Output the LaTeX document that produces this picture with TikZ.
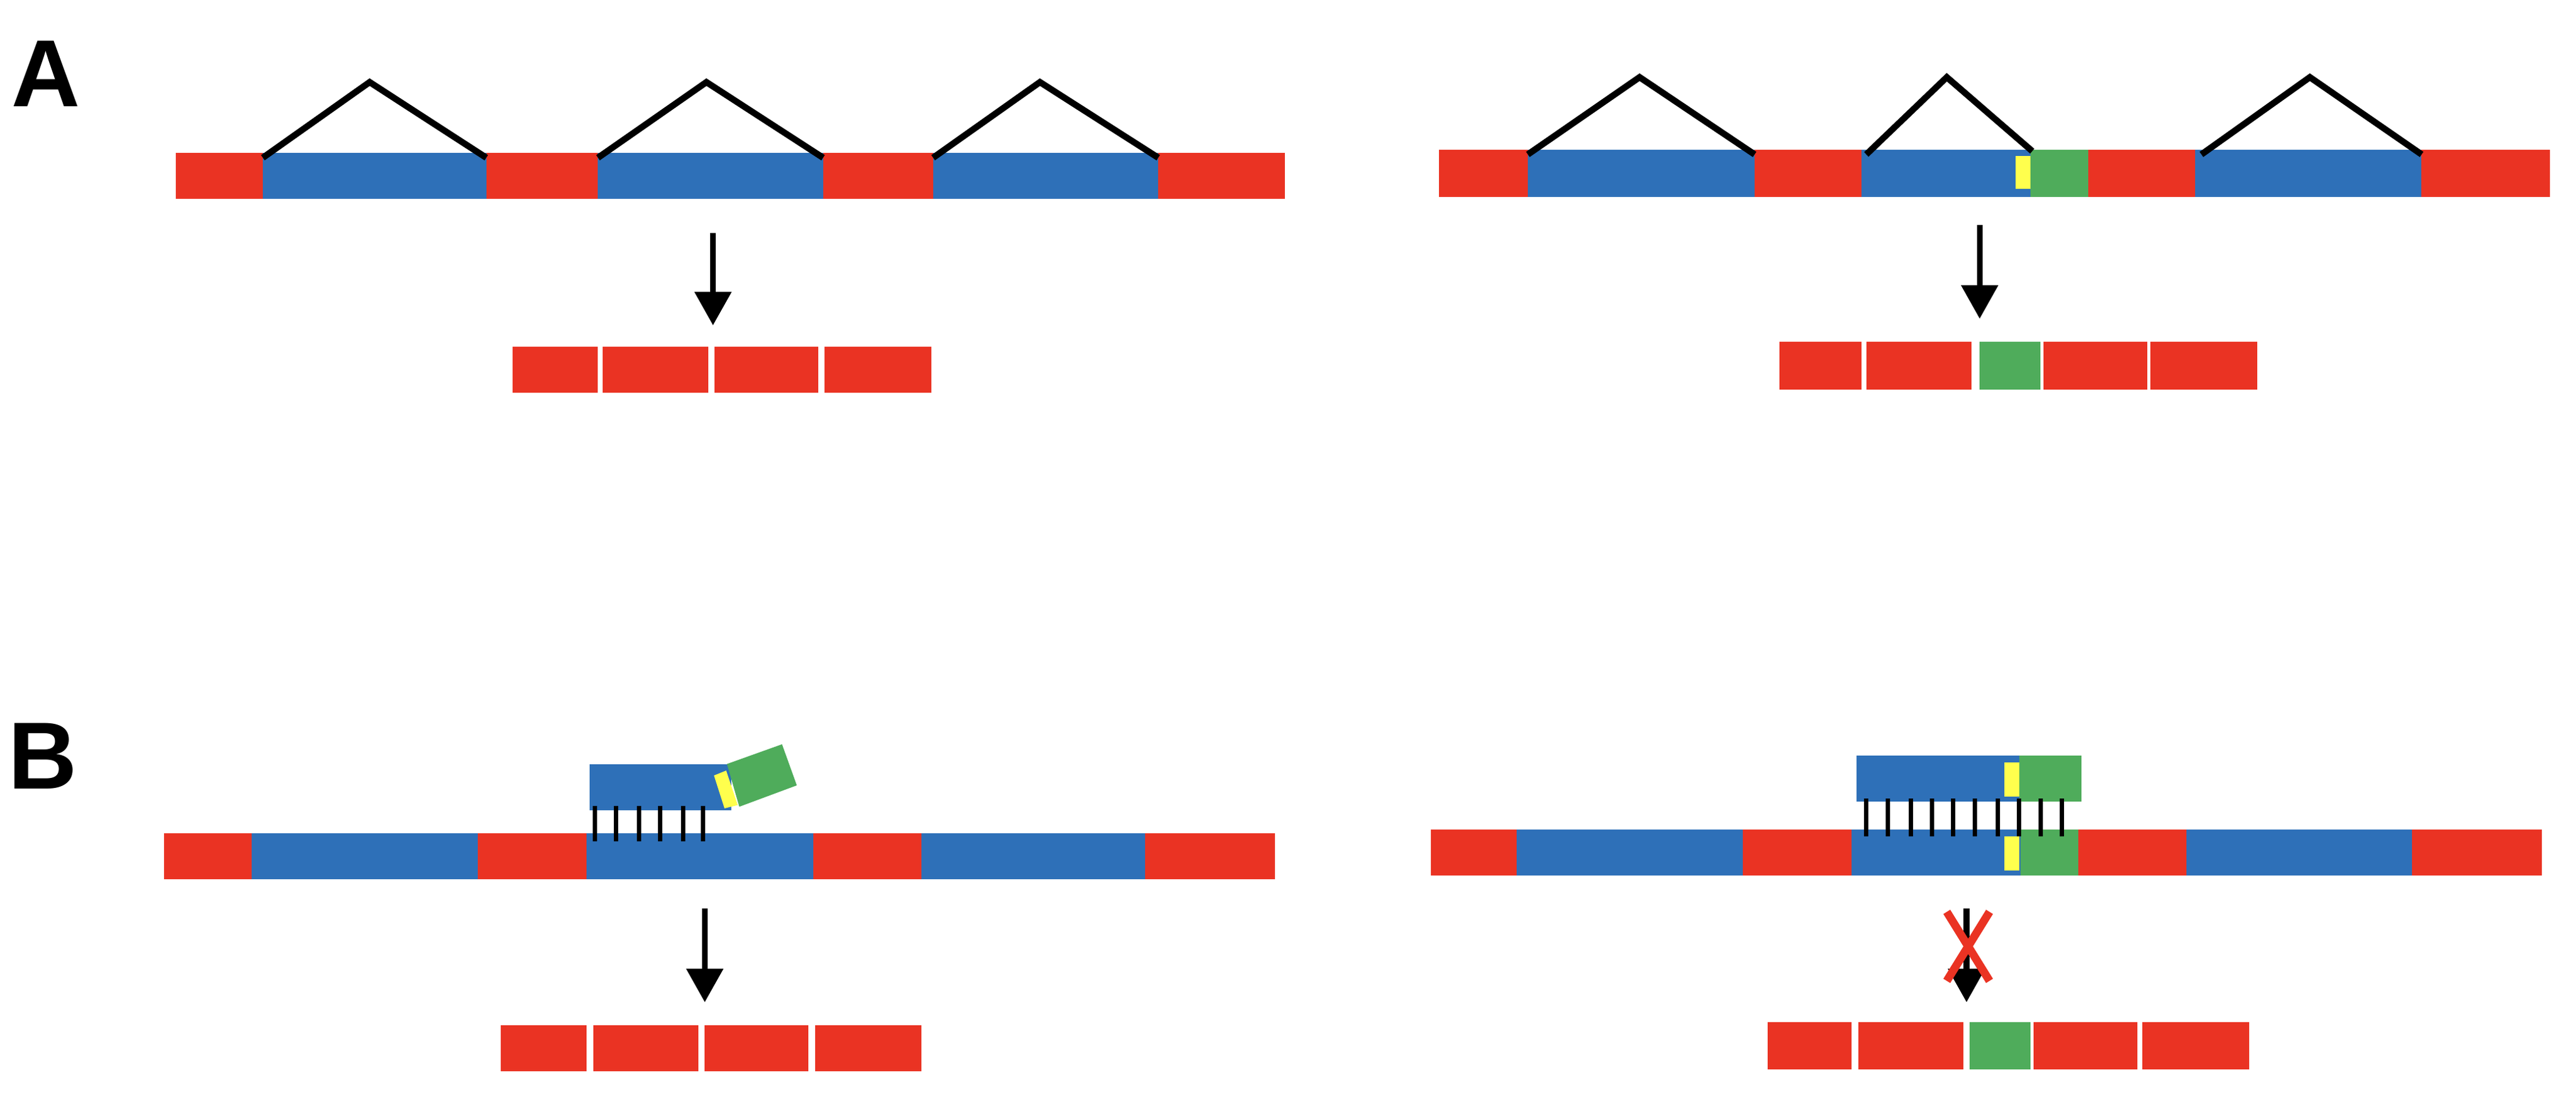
\documentclass[tikz,border=0pt]{standalone}
\usetikzlibrary{arrows.meta}
\usepackage{fontspec}
\setsansfont{Liberation Sans}
\definecolor{cred}{HTML}{EA3323}
\definecolor{cblue}{HTML}{2E70B8}
\definecolor{cgreen}{HTML}{4FAC5B}
\definecolor{cyel}{HTML}{FFFF4D}
\tikzset{
  intron/.style={line width=11pt,line join=miter},
  flow/.style={line width=10pt,-{Triangle[width=62pt,length=58pt]}},
  bp/.style={line width=7.5pt},
  lbl/.style={font=\sffamily\bfseries\fontsize{165}{165}\selectfont,anchor=center},
}
\newcommand{\sg}[5]{\fill[#5] (#1,#3) rectangle (#2,#4);}
\begin{document}
\begin{tikzpicture}[x=0.1cm,y=-0.1cm]
\useasboundingbox (0,0) rectangle (1568,665);
\node[lbl] (labA) at (28,45) {A};
\node[lbl] (labB) at (26,460) {B};
% ---- A left
\sg{107}{160}{93}{121}{cred}\sg{160}{296}{93}{121}{cblue}\sg{296}{364}{93}{121}{cred}
\sg{364}{501}{93}{121}{cblue}\sg{501}{568}{93}{121}{cred}\sg{568}{705}{93}{121}{cblue}
\sg{705}{782}{93}{121}{cred}
\draw[intron] (160,96)--(225,50)--(296,96);
\draw[intron] (364,96)--(430,50)--(501,96);
\draw[intron] (568,96)--(633,50)--(705,96);
\coordinate (a1s) at (434,142); \coordinate (a1e) at (434,198);
\draw[flow] (a1s)--(a1e);
\sg{312}{364}{211}{239}{cred}\sg{367}{431}{211}{239}{cred}\sg{435}{498}{211}{239}{cred}\sg{502}{567}{211}{239}{cred}
% ---- A right
\sg{876}{930}{91}{120}{cred}\sg{930}{1068}{91}{120}{cblue}\sg{1068}{1133}{91}{120}{cred}
\sg{1133}{1236}{91}{120}{cblue}\sg{1227}{1236}{95}{115}{cyel}\sg{1236}{1271}{91}{120}{cgreen}
\sg{1271}{1336}{91}{120}{cred}\sg{1336}{1474}{91}{120}{cblue}\sg{1474}{1552}{91}{120}{cred}
\draw[intron] (930,94)--(998,47)--(1068,94);
\draw[intron] (1136,94)--(1185,47)--(1237,92);
\draw[intron] (1340,94)--(1406,47)--(1474,94);
\coordinate (a2s) at (1205,137); \coordinate (a2e) at (1205,194);
\draw[flow] (a2s)--(a2e);
\sg{1083}{1133}{208}{237}{cred}\sg{1136}{1200}{208}{237}{cred}\sg{1205}{1242}{208}{237}{cgreen}
\sg{1244}{1307}{208}{237}{cred}\sg{1309}{1374}{208}{237}{cred}
% ---- B left
\sg{100}{153}{507}{535}{cred}\sg{153}{291}{507}{535}{cblue}\sg{291}{357}{507}{535}{cred}
\sg{357}{495}{507}{535}{cblue}\sg{495}{561}{507}{535}{cred}\sg{561}{697}{507}{535}{cblue}
\sg{697}{776}{507}{535}{cred}
\sg{359}{445}{465}{493}{cblue}
\fill[cyel] (434.6,472)--(442,469)--(449,490)--(441,492)--cycle;
\fill[cgreen] (442.5,465)--(476,453)--(485,478)--(450,491)--cycle;
\foreach \x in {362,375,389,402,416,428} \draw[bp] (\x,490.5)--(\x,512);
\coordinate (b1s) at (429,553); \coordinate (b1e) at (429,610);
\draw[flow] (b1s)--(b1e);
\sg{305}{357}{624}{652}{cred}\sg{361}{425}{624}{652}{cred}\sg{429}{492}{624}{652}{cred}\sg{496}{561}{624}{652}{cred}
% ---- B right
\sg{871}{923}{505}{533}{cred}\sg{923}{1061}{505}{533}{cblue}\sg{1061}{1127}{505}{533}{cred}
\sg{1127}{1230}{505}{533}{cblue}\sg{1220}{1229}{509}{530}{cyel}\sg{1230}{1265}{505}{533}{cgreen}
\sg{1265}{1331}{505}{533}{cred}\sg{1331}{1468}{505}{533}{cblue}\sg{1468}{1547}{505}{533}{cred}
\sg{1130}{1229}{460}{488}{cblue}\sg{1220}{1229}{464}{485}{cyel}\sg{1229}{1267}{460}{488}{cgreen}
\foreach \x in {1136,1149,1163,1176,1189,1202,1216,1229,1242,1255} \draw[bp] (\x,486)--(\x,509);
\coordinate (b2s) at (1197,553); \coordinate (b2e) at (1197,610);
\draw[flow] (b2s)--(b2e);
\draw[cred,line width=14pt] (1185,555)--(1211,597) (1211,555)--(1185,597);
\sg{1076}{1127}{622}{651}{cred}\sg{1131}{1195}{622}{651}{cred}\sg{1199}{1236}{622}{651}{cgreen}
\sg{1238}{1301}{622}{651}{cred}\sg{1304}{1369}{622}{651}{cred}
\end{tikzpicture}
\end{document}
